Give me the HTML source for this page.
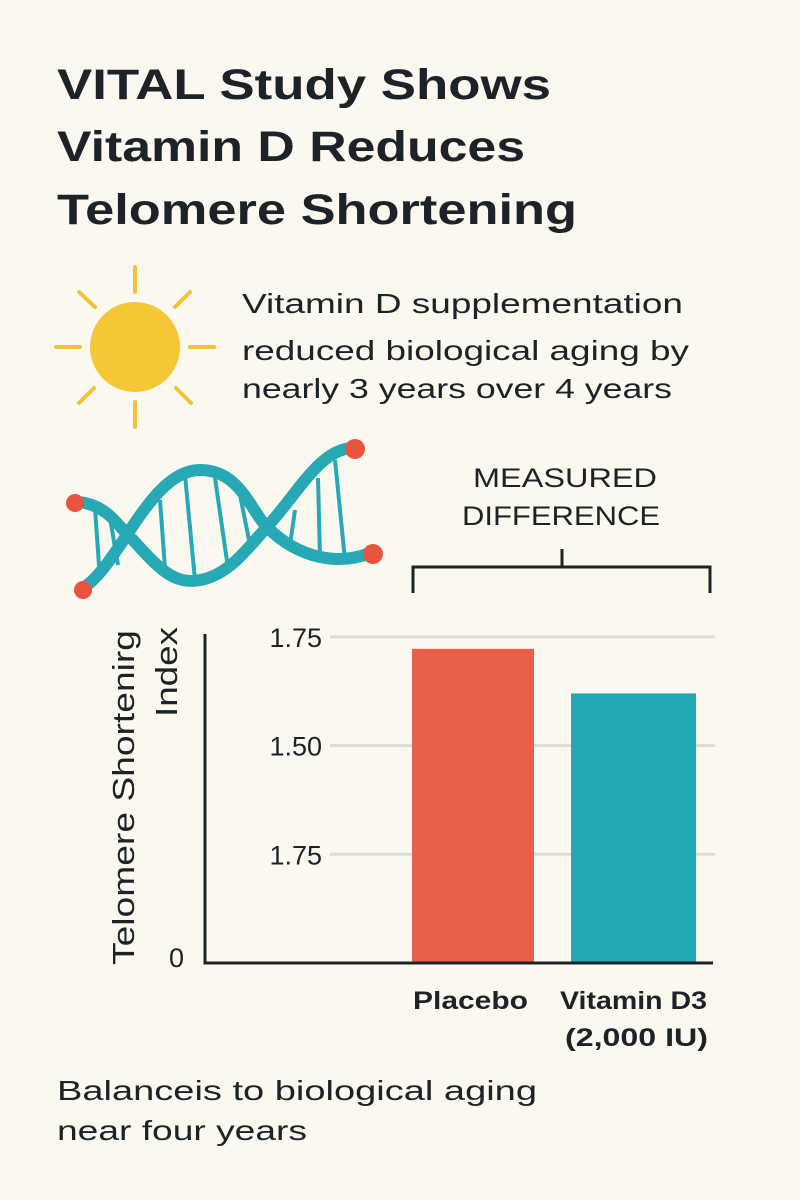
<!DOCTYPE html>
<html><head><meta charset="utf-8"><style>
html,body{margin:0;padding:0;background:#fbf9ef;}
svg{display:block;font-family:"Liberation Sans",sans-serif;}
</style></head><body>
<svg id="root" width="800" height="1200" viewBox="0 0 800 1200">
<rect width="800" height="1200" fill="#fbf9ef"/>
<g font-size="43" font-weight="bold" fill="#1c2228" lengthAdjust="spacingAndGlyphs">
<text x="57" y="99" textLength="494" lengthAdjust="spacingAndGlyphs">VITAL Study Shows</text>
<text x="57" y="161" textLength="468" lengthAdjust="spacingAndGlyphs">Vitamin D Reduces</text>
<text x="57" y="224" textLength="520" lengthAdjust="spacingAndGlyphs">Telomere Shortening</text>
</g>
<g stroke="#f2c33a" stroke-width="4" stroke-linecap="round">
<circle cx="135" cy="347" r="45" fill="#f5c736" stroke="none"/>
<line x1="135" y1="267" x2="135" y2="292"/><line x1="135" y1="402" x2="135" y2="427"/>
<line x1="56" y1="347" x2="80" y2="347"/><line x1="190" y1="347" x2="214" y2="347"/>
<line x1="79" y1="292" x2="95" y2="307"/><line x1="176" y1="388" x2="191" y2="403"/>
<line x1="190" y1="292" x2="175" y2="307"/><line x1="79" y1="403" x2="94" y2="388"/>
</g>
<g font-size="28" font-weight="500" fill="#1c2228">
<text x="242" y="313" textLength="441" lengthAdjust="spacingAndGlyphs">Vitamin D supplementation</text>
<text x="242" y="360" textLength="447" lengthAdjust="spacingAndGlyphs">reduced biological aging by</text>
<text x="242" y="398" textLength="430" lengthAdjust="spacingAndGlyphs">nearly 3 years over 4 years</text>
</g>
<g>
<g stroke="#27a9b5" stroke-width="4">
<line x1="95" y1="508" x2="100" y2="580"/><line x1="110" y1="518" x2="118" y2="565"/>
<line x1="160" y1="500" x2="165" y2="568"/><line x1="185" y1="475" x2="195" y2="580"/>
<line x1="215" y1="478" x2="228" y2="568"/><line x1="240" y1="495" x2="250" y2="545"/>
<line x1="295" y1="510" x2="290" y2="545"/><line x1="318" y1="478" x2="320" y2="558"/>
<line x1="335" y1="460" x2="345" y2="560"/>
</g>
<path d="M83,588 C120,565 150,470 200,470 C240,470 250,510 267,527 C300,560 340,565 370,553" fill="none" stroke="#27a9b5" stroke-width="12" stroke-linecap="round"/>
<path d="M78,502 C110,505 120,530 133,540 C160,570 175,585 200,580 C230,575 250,545 267,527 C300,490 320,450 352,448" fill="none" stroke="#27a9b5" stroke-width="12" stroke-linecap="round"/>
<circle cx="75" cy="503" r="9" fill="#e8543f"/><circle cx="83" cy="590" r="9" fill="#e8543f"/>
<circle cx="355" cy="449" r="10" fill="#e8543f"/><circle cx="373" cy="554" r="10" fill="#e8543f"/>
</g>
<g font-size="27" fill="#1c2228">
<text x="473" y="487" textLength="184" lengthAdjust="spacingAndGlyphs">MEASURED</text>
<text x="462" y="525" textLength="198" lengthAdjust="spacingAndGlyphs">DIFFERENCE</text>
</g>
<path d="M413,593 V567 H710 V593 M562,549 V567" fill="none" stroke="#1c2228" stroke-width="3"/>
<g id="chart"></g>
<g font-size="31" font-weight="500" fill="#1c2228">
<text transform="translate(134,965) rotate(-90)" textLength="335" lengthAdjust="spacingAndGlyphs">Telomere Shortenirg</text>
<text transform="translate(177,717) rotate(-90)" textLength="90" lengthAdjust="spacingAndGlyphs">Index</text>
</g>
<g font-size="28" fill="#1c2228">
<text x="57" y="1100" textLength="480" lengthAdjust="spacingAndGlyphs">Balanceis to biological aging</text>
<text x="57" y="1140" textLength="250" lengthAdjust="spacingAndGlyphs">near four years</text>
</g>
</svg>
<script>
const categories = ["Placebo", "Vitamin D3"];
const values = [2.89, 2.48];
const tickValues = [0, 1, 2, 3];
const tickLabels = ["0", "1.75", "1.50", "1.75"];
const colors = ["#e8604a", "#21aab3"];
const ns = "http://www.w3.org/2000/svg";
const chart = document.getElementById("chart");
const y0 = 963, unit = 108.7;
function yScale(v){ return y0 - v * unit; }
const barX = [412, 571], barW = [122, 125];
function mk(tag, attrs){ const e = document.createElementNS(ns, tag); for (const k in attrs) e.setAttribute(k, attrs[k]); chart.appendChild(e); return e; }
tickValues.forEach((t, i) => {
  if (t > 0) {
    const g = mk("line", {x1: 330, x2: 715, y1: yScale(t), y2: yScale(t), stroke: "#dddbd2", "stroke-width": 3});
    
    
  }
  const tx = mk("text", {x: t > 0 ? 322 : 184, y: yScale(t) + (t > 0 ? 10 : 4), "text-anchor": "end", "font-size": 27, fill: "#1c2228"});
  tx.textContent = tickLabels[i];
  
  
});
categories.forEach((c, i) => {
  const r = mk("rect", {x: barX[i], y: yScale(values[i]), width: barW[i], height: y0 - yScale(values[i]), fill: colors[i]});
  
  
});
const xl1 = mk("text", {x: 413, y: 1009, "font-size": 25, "font-weight": "bold", fill: "#1c2228", textLength: 115, lengthAdjust: "spacingAndGlyphs"});
xl1.textContent = categories[0];


const xl2 = mk("text", {x: 560, y: 1009, "font-size": 25, "font-weight": "bold", fill: "#1c2228", textLength: 147, lengthAdjust: "spacingAndGlyphs"});
xl2.textContent = categories[1];


const xl3 = mk("text", {x: 565, y: 1046, "font-size": 25, "font-weight": "bold", fill: "#1c2228", textLength: 143, lengthAdjust: "spacingAndGlyphs"});
xl3.textContent = "(2,000 IU)";


const ax = mk("path", {d: "M205,634 V963 H713", fill: "none", stroke: "#1c2228", "stroke-width": 3});


</script>
</body></html>
